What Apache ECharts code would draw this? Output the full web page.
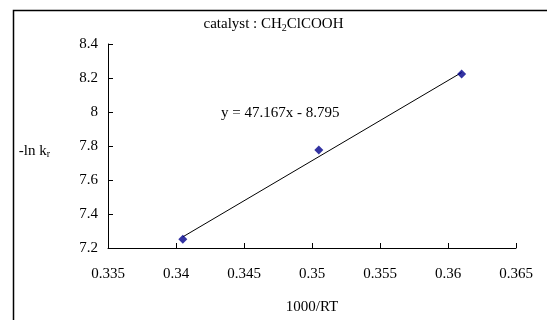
<!DOCTYPE html>
<html>
<head>
<meta charset="utf-8">
<script src="https://cdn.jsdelivr.net/npm/echarts@6/dist/echarts.min.js"></script>
<style>
  html, body { margin: 0; padding: 0; background: #fff; }
  #chart { width: 547px; height: 320px; }
</style>
</head>
<body>
<div id="chart"></div>
<script>
// measured points (1000/RT, -ln kr)
const invRT = [0.3405, 0.3505, 0.361];
const negLnK = [7.252, 7.777, 8.224];

// linear fit shown on the chart
const slope = 47.167;
const intercept = -8.795;

const xTicks = [0.335, 0.34, 0.345, 0.35, 0.355, 0.36, 0.365];
const yTicks = [7.2, 7.4, 7.6, 7.8, 8, 8.2, 8.4];

const points = invRT.map((x, i) => [x, negLnK[i]]);
const xMin = Math.min(...invRT), xMax = Math.max(...invRT);
const trend = [
  [xMin, slope * xMin + intercept],
  [xMax, slope * xMax + intercept]
];

const font = 'Liberation Serif';
const fs = 15;
const subStyle = { fontFamily: font, fontSize: 10, verticalAlign: 'bottom', padding: [7, 0, 0, 0] };

const chart = echarts.init(document.getElementById('chart'));
chart.setOption({
  animation: false,
  backgroundColor: '#fff',
  textStyle: { fontFamily: font, color: '#000' },
  title: {
    text: 'catalyst : CH{sub|2}ClCOOH',
    left: 'center',
    top: 11,
    textStyle: {
      fontFamily: font, fontSize: fs, fontWeight: 'normal', color: '#000',
      rich: { sub: subStyle }
    }
  },
  grid: { left: 108, right: 31, top: 44, bottom: 70 },
  xAxis: {
    type: 'value',
    min: xTicks[0],
    max: xTicks[xTicks.length - 1],
    interval: 0.005,
    name: '1000/RT',
    nameLocation: 'middle',
    nameGap: 52,
    nameTextStyle: { fontFamily: font, fontSize: fs, color: '#000' },
    axisLine: { lineStyle: { color: '#000', width: 1 } },
    axisTick: { inside: true, length: 5, lineStyle: { color: '#000' } },
    axisLabel: { fontFamily: font, fontSize: fs, color: '#000', margin: 19 },
    splitLine: { show: false }
  },
  yAxis: {
    type: 'value',
    min: yTicks[0],
    max: yTicks[yTicks.length - 1],
    interval: 0.2,
    name: '-ln k{sub|r}',
    nameLocation: 'middle',
    nameRotate: 0,
    nameGap: 58,
    nameTextStyle: {
      fontFamily: font, fontSize: fs, color: '#000', padding: [10, 0, 0, 0],
      rich: { sub: subStyle }
    },
    axisLine: { show: true, lineStyle: { color: '#000', width: 1 } },
    axisTick: { show: true, inside: true, length: 5, lineStyle: { color: '#000' } },
    axisLabel: {
      fontFamily: font, fontSize: fs, color: '#000', margin: 10,
      formatter: v => String(Math.round(v * 10) / 10)
    },
    splitLine: { show: false }
  },
  graphic: [
    {
      type: 'rect',
      shape: { x: 13.5, y: 10.5, width: 600, height: 400 },
      style: { fill: 'none', stroke: '#000', lineWidth: 1.5 },
      silent: true,
      z: -1
    },
    {
      type: 'text',
      left: 221,
      top: 106,
      style: {
        text: 'y = ' + slope + 'x - ' + Math.abs(intercept),
        fontFamily: font, fontSize: fs, fill: '#000'
      }
    }
  ],
  series: [
    {
      type: 'line',
      data: trend,
      symbol: 'none',
      lineStyle: { color: '#000', width: 1 },
      silent: true,
      z: 1
    },
    {
      type: 'scatter',
      data: points,
      symbol: 'diamond',
      symbolSize: 9,
      itemStyle: { color: '#00008B' },
      z: 2
    }
  ]
});
</script>
</body>
</html>
